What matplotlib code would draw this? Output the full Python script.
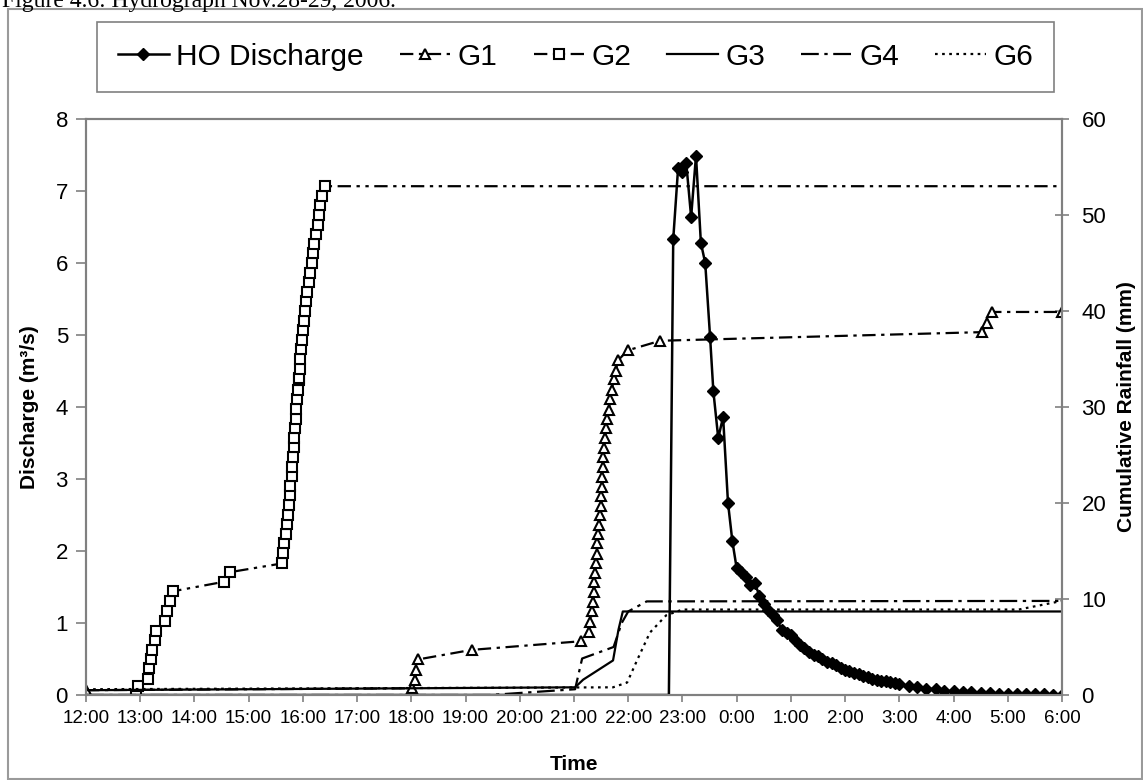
import matplotlib
matplotlib.use("Agg")
import matplotlib.pyplot as plt
from matplotlib.patches import Rectangle

plt.rcParams["font.family"] = ["Liberation Sans", "DejaVu Sans"]

# hours after 12:00 on Nov 28
hour_labels = ["12:00", "13:00", "14:00", "15:00", "16:00", "17:00", "18:00",
               "19:00", "20:00", "21:00", "22:00", "23:00", "0:00", "1:00",
               "2:00", "3:00", "4:00", "5:00", "6:00"]

# HO discharge (m3/s)
ho_t = [0.0, 10.75, 10.83, 10.92, 11.0, 11.07, 11.16, 11.25, 11.34, 11.42, 11.51,
        11.57, 11.66, 11.75, 11.84, 11.92, 12.0, 12.08, 12.17, 12.25, 12.33, 12.42,
        12.5, 12.58, 12.67, 12.75, 12.83, 12.92, 13.0, 13.08, 13.17, 13.25, 13.33,
        13.42, 13.5, 13.58, 13.67, 13.75, 13.83, 13.92, 14.0, 14.08, 14.17, 14.25,
        14.33, 14.42, 14.5, 14.58, 14.67, 14.75, 14.83, 14.92, 15.0, 15.17, 15.33,
        15.5, 15.67, 15.83, 16.0, 16.17, 16.33, 16.5, 16.67, 16.83, 17.0, 17.17,
        17.33, 17.5, 17.67, 17.83, 18.0]
ho_q = [0.0, 0.0, 6.33, 7.32, 7.26, 7.39, 6.64, 7.49, 6.28, 6.0, 4.97,
        4.22, 3.57, 3.86, 2.67, 2.14, 1.76, 1.71, 1.64, 1.53, 1.56, 1.38,
        1.27, 1.18, 1.11, 1.04, 0.9, 0.86, 0.83, 0.76, 0.7, 0.65, 0.6,
        0.56, 0.54, 0.5, 0.46, 0.44, 0.42, 0.38, 0.35, 0.33, 0.31, 0.29,
        0.26, 0.25, 0.22, 0.21, 0.2, 0.19, 0.18, 0.17, 0.15, 0.12, 0.11,
        0.09, 0.08, 0.06, 0.05, 0.04, 0.035, 0.03, 0.025, 0.02, 0.02, 0.015,
        0.01, 0.01, 0.01, 0.005, 0.0]

# cumulative rainfall (mm)
g1_t = [0.0, 6.02, 6.07, 6.09, 6.12, 7.11, 9.13, 9.27, 9.30, 9.33, 9.35, 9.36,
        9.37, 9.39, 9.40, 9.42, 9.43, 9.45, 9.47, 9.48, 9.49, 9.50, 9.51, 9.52,
        9.53, 9.54, 9.55, 9.57, 9.59, 9.61, 9.64, 9.67, 9.70, 9.73, 9.77, 9.82,
        9.99, 10.59, 16.53, 16.61, 16.70, 18.0]
g1_mm = [0.5, 0.7, 1.6, 2.6, 3.7, 4.7, 5.6, 6.6, 7.6, 8.7, 9.7, 10.7,
         11.8, 12.7, 13.7, 14.7, 15.8, 16.8, 17.7, 18.7, 19.7, 20.7, 21.7, 22.7,
         23.7, 24.8, 25.7, 26.8, 27.8, 28.7, 29.7, 30.8, 31.8, 32.9, 33.8, 34.9,
         35.9, 36.9, 37.8, 38.8, 39.9, 39.9]

g2_t = [0.92, 0.95, 1.15, 1.17, 1.19, 1.22, 1.27, 1.30, 1.46, 1.49, 1.54, 1.60,
        2.55, 2.66, 3.61, 3.64, 3.66, 3.68, 3.70, 3.72, 3.74, 3.76, 3.77, 3.79,
        3.80, 3.82, 3.83, 3.84, 3.86, 3.87, 3.88, 3.90, 3.91, 3.92, 3.93, 3.94,
        3.95, 3.96, 3.98, 4.00, 4.02, 4.03, 4.06, 4.08, 4.11, 4.14, 4.16, 4.19,
        4.21, 4.24, 4.27, 4.30, 4.32, 4.35, 4.41, 18.0]
g2_mm = [0.0, 0.9, 1.7, 2.8, 3.8, 4.7, 5.7, 6.7, 7.7, 8.7, 9.8, 10.8,
         11.8, 12.8, 13.7, 14.8, 15.8, 16.8, 17.8, 18.8, 19.8, 20.8, 21.8, 22.8,
         23.8, 24.8, 25.8, 26.8, 27.8, 28.8, 29.8, 30.8, 31.8, 32.8, 33.0, 34.0,
         35.0, 36.0, 37.0, 38.0, 39.0, 40.0, 41.0, 42.0, 43.0, 44.0, 45.0, 46.0,
         47.0, 48.0, 49.0, 50.0, 51.0, 52.0, 53.0, 53.0]

g3_t = [0.0, 9.02, 9.17, 9.72, 9.82, 9.90, 18.0]
g3_mm = [0.5, 0.8, 1.6, 3.6, 6.8, 8.7, 8.7]

g4_t = [0.0, 7.45, 9.02, 9.15, 9.73, 9.88, 10.0, 10.34, 18.0]
g4_mm = [0.0, 0.0, 0.6, 3.8, 5.0, 7.5, 8.7, 9.75, 9.8]

g6_t = [0.0, 9.72, 9.98, 10.17, 10.4, 10.7, 11.0, 17.2, 18.0]
g6_mm = [0.6, 0.8, 1.3, 3.7, 6.5, 8.3, 8.9, 8.9, 9.8]

W, H = 1143, 780
fig = plt.figure(figsize=(W / 100, H / 100), dpi=100)

# outer chart frame and the caption cut off above it
fig.patches.append(Rectangle((8 / W, 1 / H), 1134 / W, 770 / H, transform=fig.transFigure,
                             fill=False, ec="#9a9a9a", lw=1.5))
fig.text(2 / W, 1 - 7 / H, "Figure 4.6: Hydrograph Nov.28-29, 2006.",
         family=["Liberation Serif", "DejaVu Serif"], fontsize=17, va="baseline")

ax = fig.add_axes([86 / W, 1 - 695 / H, (1062 - 86) / W, (695 - 119) / H])
ax2 = ax.twinx()
ax.set_zorder(ax2.get_zorder() + 1)
ax.patch.set_visible(False)

lw = 1.6
ax2.plot(g1_t, g1_mm, color="black", lw=lw, dashes=(6, 2.5, 1.5, 2.5), marker="^",
         ms=7, mfc="white", mec="black", mew=1.5, label="G1")
ax2.plot(g2_t, g2_mm, color="black", lw=lw, dashes=(6, 2.5, 1.5, 2.5, 1.5, 2.5), marker="s",
         ms=6.5, mfc="white", mec="black", mew=1.5, markevery=list(range(len(g2_t) - 1)),
         label="G2")
ax2.plot(g3_t, g3_mm, color="black", lw=lw, label="G3")
ax2.plot(g4_t, g4_mm, color="black", lw=lw, dashes=(8, 2.5, 1.5, 2.5), label="G4")
ax2.plot(g6_t, g6_mm, color="black", lw=lw, dashes=(1.2, 2.0), label="G6")

ax.plot(ho_t, ho_q, color="black", lw=1.8, marker="D", ms=6, mfc="black", mec="black",
        markevery=list(range(2, len(ho_t))), label="HO Discharge")

ax.set_xlim(0, 18)
ax.set_ylim(0, 8)
ax2.set_ylim(0, 60)
ax.set_xticks(range(len(hour_labels)))
ax.set_xticklabels(hour_labels, fontsize=13.5)
ax.set_yticks(range(0, 9))
ax.tick_params(axis="y", labelsize=16, direction="out", length=7, width=1.2, color="#808080", pad=6)
ax.tick_params(axis="x", direction="out", length=5, width=1.2, color="#808080", pad=6)
ax2.set_yticks(range(0, 61, 10))
ax2.tick_params(axis="y", labelsize=16, direction="inout", length=10, width=1.2, color="#808080", pad=9)

for a in (ax, ax2):
    for s in a.spines.values():
        s.set_color("#808080")
        s.set_linewidth(1.5)

ax.set_xlabel("Time", fontsize=15, fontweight="bold", labelpad=20)
ax.set_ylabel("Discharge (m³/s)", fontsize=15, fontweight="bold", labelpad=12)
ax2.set_ylabel("Cumulative Rainfall (mm)", fontsize=15, fontweight="bold", labelpad=8)

h1, l1 = ax.get_legend_handles_labels()
h2, l2 = ax2.get_legend_handles_labels()
leg = fig.legend(h1 + h2, l1 + l2, loc="upper left", bbox_to_anchor=(97 / W, 1 - 22 / H),
                 borderaxespad=0, ncol=6, fontsize=21.5, frameon=True, fancybox=False,
                 edgecolor="#606060", handlelength=1.7, handletextpad=0.25,
                 columnspacing=1.2, borderpad=0.7)
leg.get_frame().set_linewidth(1.2)

fig.savefig("out.png", dpi=100)
